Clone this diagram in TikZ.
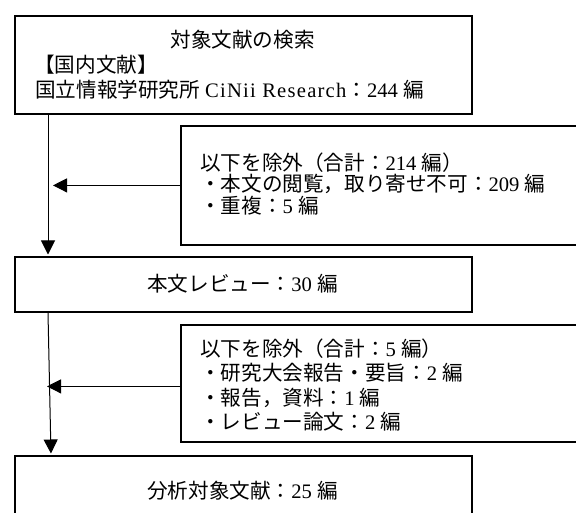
\documentclass[tikz,border=0pt]{standalone}
\usepackage{fontspec}
\setmainfont{Noto Sans CJK JP}
\newfontfamily\lat{Liberation Serif}
\newfontfamily\latsp[LetterSpace=6]{Liberation Serif}
\usetikzlibrary{arrows.meta,calc}
\tikzset{
  box/.style={draw, line width=1.8pt, fill=white, inner sep=0pt, anchor=north west},
  txt/.style={inner sep=0pt, font=\fontsize{20.6pt}{25pt}\selectfont},
  arr/.style={line width=1pt, -{Triangle[length=14pt,width=14pt]}},
}
\newcommand\ks{\hspace{0.25em}}
\begin{document}
\begin{tikzpicture}[x=1pt,y=-1pt]
\useasboundingbox (0,0) rectangle (576,513);
\fill[white] (0,0) rectangle (576,513);
\clip (0,0) rectangle (576,513);
% boxes
\node[box, minimum width=457pt, minimum height=98pt] (b1) at (14,15) {};
\node[box, minimum width=420pt, minimum height=119pt] (s1) at (180,125) {};
\node[box, minimum width=457pt, minimum height=55pt] (b3) at (14,256) {};
\node[box, minimum width=420pt, minimum height=117pt] (s2) at (180,324) {};
\node[box, minimum width=457pt, minimum height=80pt] (b4) at (14,455) {};
% texts
\node[txt, anchor=base] (t1) at (242.5,48) {対象文献の検索};
\node[txt, anchor=base west] (t2) at (34,73) {【国内文献】};
\node[txt, anchor=base west] (t3) at (35,98) {国立情報学研究所\ks{\latsp CiNii Research}：{\lat 244}\ks 編};
\node[txt, anchor=base west] (s1a) at (200,170.5) {以下を除外（合計：{\lat 214}\ks 編）};
\node[txt, anchor=base west] (s1b) at (200,192) {・本文の閲覧，取り寄せ不可：{\lat 209}\ks 編};
\node[txt, anchor=base west] (s1c) at (200,213.5) {・重複：{\lat 5}\ks 編};
\node[txt, anchor=base] (t4) at (242.5,291) {本文レビュー：{\lat 30}\ks 編};
\node[txt, anchor=base west] (s2a) at (200,356) {以下を除外（合計：{\lat 5}\ks 編）};
\node[txt, anchor=base west] (s2b) at (200,380) {・研究大会報告・要旨：{\lat 2}\ks 編};
\node[txt, anchor=base west] (s2c) at (200,405) {・報告，資料：{\lat 1}\ks 編};
\node[txt, anchor=base west] (s2d) at (200,429) {・レビュー論文：{\lat 2}\ks 編};
\node[txt, anchor=base] (t5) at (242.5,498) {分析対象文献：{\lat 25}\ks 編};
% connectors
\coordinate (v1a) at ($(b1.south west)+(34,0)$);
\coordinate (v1b) at ($(b3.north west)+(34,0)$);
\coordinate (v2a) at ($(b3.south west)+(34,0)$);
\coordinate (v2b) at ($(b4.north west)+(37,0)$);
\draw[arr, shorten >=1.5pt] (v1a) -- (v1b);
\draw[arr] (s1.west) -- ($(s1.west -| v1a)+(5,0)$);
\draw[arr, shorten >=1.5pt] (v2a) -- (v2b);
\draw[arr] ($(s2.west)+(0,3)$) -- ($(s2.west -| v2a)+(-1,3)$);
\end{tikzpicture}
\end{document}
